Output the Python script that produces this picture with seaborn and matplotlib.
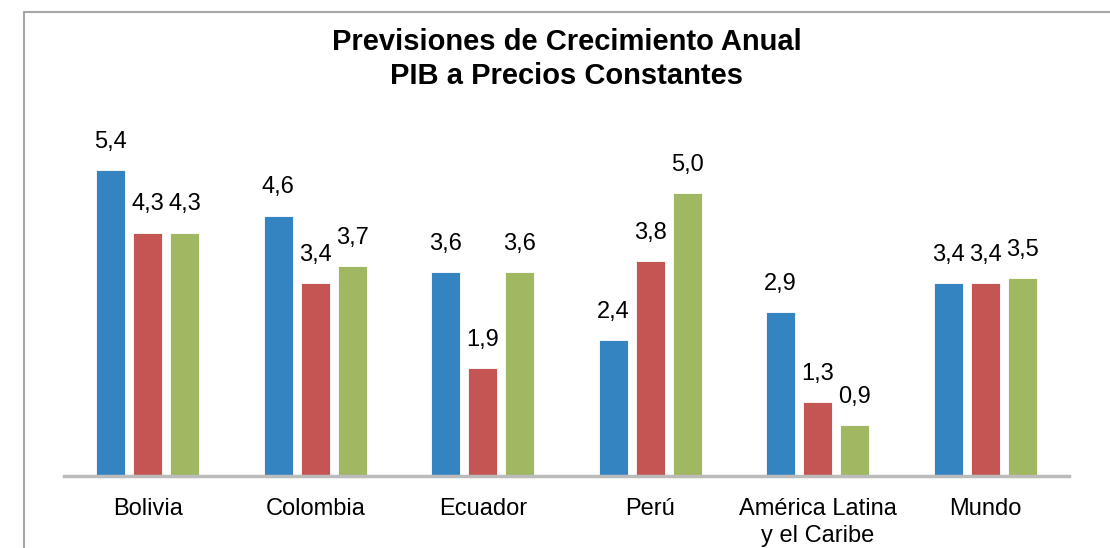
import pandas as pd
import matplotlib
matplotlib.use('Agg')
import matplotlib.pyplot as plt
from matplotlib.patches import Rectangle
import seaborn as sns

# Data
paises = ['Bolivia', 'Colombia', 'Ecuador', 'Perú', 'América Latina\ny el Caribe', 'Mundo']
serie_1 = [5.4, 4.6, 3.6, 2.4, 2.9, 3.4]
serie_2 = [4.3, 3.4, 1.9, 3.8, 1.3, 3.4]
serie_3 = [4.3, 3.7, 3.6, 5.0, 0.9, 3.5]
series = ['Serie 1', 'Serie 2', 'Serie 3']
colores = ['#3484C1', '#C45553', '#A1B862']

df = pd.DataFrame({
    'Pais': paises * 3,
    'Serie': [s for s in series for _ in paises],
    'Valor': serie_1 + serie_2 + serie_3,
})

sns.set_theme(style='white')
plt.rcParams['font.family'] = ['Liberation Sans', 'DejaVu Sans']

fig = plt.figure(figsize=(11.1, 5.48), dpi=100)
ax = fig.add_axes([64 / 1110, 72 / 548, 1005 / 1110, 0.62])

sns.barplot(data=df, x='Pais', y='Valor', hue='Serie', order=paises,
            palette=colores, saturation=1, width=0.663, gap=0.22,
            legend=False, ax=ax, edgecolor='white', linewidth=0.6)

# Value labels
for cont in ax.containers:
    for bar in cont:
        h = bar.get_height()
        ax.annotate(f'{h:.1f}'.replace('.', ','),
                    (bar.get_x() + bar.get_width() / 2, h),
                    xytext=(0, 16), textcoords='offset points',
                    ha='center', va='baseline', fontsize=17, color='black')

ax.set_ylim(0, 339 / 56.5)
ax.set_xlim(-0.5, len(paises) - 0.5)
ax.set_xlabel('')
ax.set_ylabel('')
ax.set_yticks([])
for s in ['top', 'right', 'left']:
    ax.spines[s].set_visible(False)
ax.spines['bottom'].set_color('#BBBBBB')
ax.spines['bottom'].set_linewidth(2.5)
ax.tick_params(axis='x', length=0, pad=16, labelsize=17, labelcolor='black')
for t in ax.get_xticklabels():
    t.set_linespacing(1.3)
ax.patch.set_alpha(0)

fig.text(566.5 / 1110, 1 - 59 / 548,
         'Previsiones de Crecimiento Anual\nPIB a Precios Constantes',
         ha='center', va='center', fontsize=21, fontweight='bold',
         linespacing=1.25, color='black')

# Outer frame
fig.patches.append(Rectangle((24 / 1110, -0.05), 1.2, 1 - 12 / 548 + 0.05,
                             transform=fig.transFigure, fill=False,
                             edgecolor='#A6A6A6', linewidth=1.5, zorder=-1))

fig.savefig('out.png', dpi=100)
